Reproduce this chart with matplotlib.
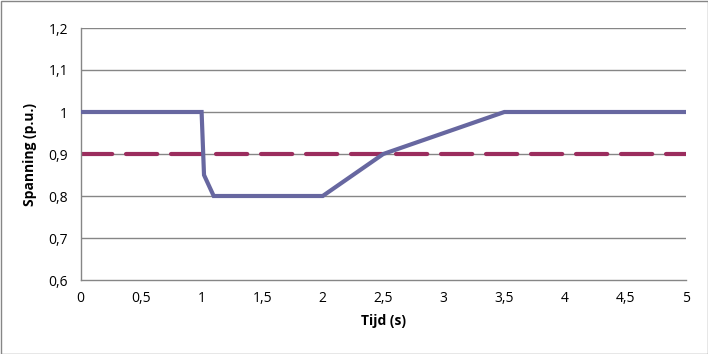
import matplotlib
matplotlib.use("Agg")
import matplotlib.pyplot as plt
from matplotlib.patches import Rectangle

# Data
time_s = [0, 1, 1.02, 1.1, 2, 2.5, 3.5, 5]
voltage_pu = [1.0, 1.0, 0.85, 0.8, 0.8, 0.9, 1.0, 1.0]
limit_time = [0, 5]
limit_pu = [0.9, 0.9]
x_ticks = [0, 0.5, 1, 1.5, 2, 2.5, 3, 3.5, 4, 4.5, 5]
x_labels = ["0", "0,5", "1", "1,5", "2", "2,5", "3", "3,5", "4", "4,5", "5"]
y_ticks = [0.6, 0.7, 0.8, 0.9, 1.0, 1.1, 1.2]
y_labels = ["0,6", "0,7", "0,8", "0,9", "1", "1,1", "1,2"]

plt.rcParams['font.family'] = ['Open Sans', 'DejaVu Sans']

fig = plt.figure(figsize=(7.08, 3.54), dpi=100)
ax = fig.add_axes([80.5/708, 1-280/354, (686-80.5)/708, (280-28)/354])

for y in y_ticks[1:]:
    ax.axhline(y, color='#868686', lw=1.0, zorder=1)

ax.plot(limit_time, limit_pu, color='#9B2D5E', lw=3.0, dashes=(7.5, 3.3), zorder=2,
        solid_capstyle='butt', dash_capstyle='round')
ax.plot(time_s, voltage_pu, color='#6767A0', lw=3.0, zorder=3, solid_joinstyle='miter')

ax.set_xlim(0, 5)
ax.set_ylim(0.6, 1.2)
ax.set_xticks(x_ticks)
ax.set_xticklabels(x_labels)
ax.set_yticks(y_ticks)
ax.set_yticklabels(y_labels)
ax.tick_params(length=0, labelsize=10, colors='black', pad=8)
ax.tick_params(axis='y', pad=9)
for s in ['top', 'right']:
    ax.spines[s].set_visible(False)
for s in ['left', 'bottom']:
    ax.spines[s].set_color('#868686')
    ax.spines[s].set_linewidth(1.0)

ax.set_xlabel('Tijd (s)', fontsize=10, fontweight='bold', labelpad=6)
ax.set_ylabel('Spanning (p.u.)', fontsize=10, fontweight='bold', labelpad=8)

fig.patches.append(Rectangle((0.5/708, 0.5/354), 1-1/708, 1-1/354, transform=fig.transFigure,
                             fill=False, edgecolor='#868686', lw=1.0))

fig.savefig('out.png', dpi=100)
